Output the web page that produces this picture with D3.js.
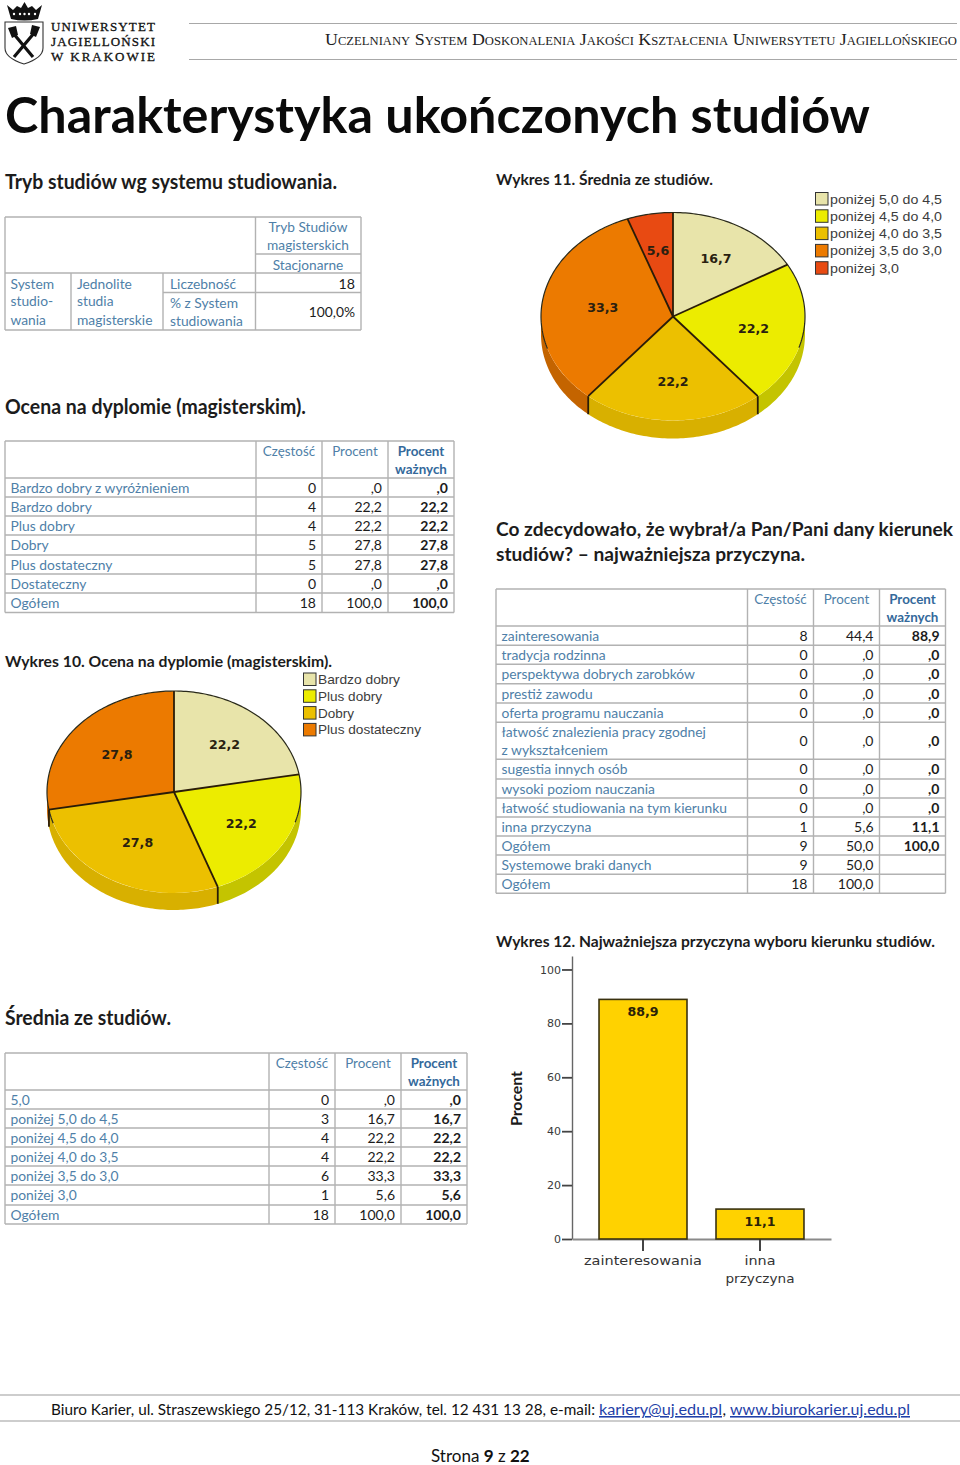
<!DOCTYPE html>
<html lang="pl"><head><meta charset="utf-8">
<script src="https://cdn.jsdelivr.net/npm/d3@7"></script>
<style>html,body{margin:0;padding:0;background:#fff}svg{display:block}</style>
</head><body><svg id="c" width="960" height="1465" viewBox="0 0 960 1465"></svg>
<script>
// ---- data ----
const logoLines = ["UNIWERSYTET","JAGIELLOŃSKI","W KRAKOWIE"];
const pageHeader = "Uczelniany System Doskonalenia Jakości Kształcenia Uniwersytetu Jagiellońskiego";
const pageTitle = "Charakterystyka ukończonych studiów";

const grade10Labels = ["Bardzo dobry","Plus dobry","Dobry","Plus dostateczny"];
const grade10Values = [22.2,22.2,27.8,27.8];
const avg11Labels = ["poniżej 5,0 do 4,5","poniżej 4,5 do 4,0","poniżej 4,0 do 3,5","poniżej 3,5 do 3,0","poniżej 3,0"];
const avg11Values = [16.7,22.2,22.2,33.3,5.6];
const reasonBarLabels = [["zainteresowania"],["inna","przyczyna"]];
const reasonBarValues = [88.9,11.1];
const barTicks = [0,20,40,60,80,100];

const freqHeader = ["Częstość","Procent",["Procent","ważnych"]];
const gradeRows = ["Bardzo dobry z wyróżnieniem","Bardzo dobry","Plus dobry","Dobry","Plus dostateczny","Dostateczny","Ogółem"];
const gradeFreq = ["0","4","4","5","5","0","18"];
const gradePct = [",0","22,2","22,2","27,8","27,8",",0","100,0"];
const gradeValid = [",0","22,2","22,2","27,8","27,8",",0","100,0"];

const avgRows = ["5,0","poniżej 5,0 do 4,5","poniżej 4,5 do 4,0","poniżej 4,0 do 3,5","poniżej 3,5 do 3,0","poniżej 3,0","Ogółem"];
const avgFreq = ["0","3","4","4","6","1","18"];
const avgPct = [",0","16,7","22,2","22,2","33,3","5,6","100,0"];
const avgValid = [",0","16,7","22,2","22,2","33,3","5,6","100,0"];

const reasonRows = ["zainteresowania","tradycja rodzinna","perspektywa dobrych zarobków","prestiż zawodu","oferta programu nauczania",["łatwość znalezienia pracy zgodnej","z wykształceniem"],"sugestia innych osób","wysoki poziom nauczania","łatwość studiowania na tym kierunku","inna przyczyna","Ogółem","Systemowe braki danych","Ogółem"];
const reasonFreq = ["8","0","0","0","0","0","0","0","0","1","9","9","18"];
const reasonPct = ["44,4",",0",",0",",0",",0",",0",",0",",0",",0","5,6","50,0","50,0","100,0"];
const reasonValid = ["88,9",",0",",0",",0",",0",",0",",0",",0",",0","11,1","100,0","",""];

// ---- style ----
const SANS = "Lato, Carlito, 'Open Sans', sans-serif";
const BLUE = "#4f7fa8", BLUEB = "#34699b", INK = "#1c1c1c", GRID = "#b2b2b2";
const PIE_TOP = ["#e8e4aa","#ecec00","#ecc000","#ec7a00","#e84a12"];
const PIE_SIDE = ["#bdb985","#c4c400","#d8b000","#c46400","#b83a0a"];
const svg = d3.select("#c");
const fmt = d3.formatLocale({decimal:",",thousands:" ",grouping:[3],currency:["",""]}).format(".1f");

function T(x,y,s,o={}){
  const t = svg.append("text").attr("x",x).attr("y",y).text(s)
    .attr("font-family",o.font||SANS).attr("font-size",o.size||14.2)
    .attr("font-weight",o.weight||400).attr("fill",o.fill||INK)
    .attr("text-anchor",o.anchor||"start");
  if(o.fit) t.attr("textLength",o.fit).attr("lengthAdjust",o.adjust||"spacingAndGlyphs");
  if(o.deco) t.attr("text-decoration",o.deco);
  if(o.variant) t.attr("font-variant",o.variant);
  if(o.rotate) t.attr("transform",`rotate(${o.rotate} ${x} ${y})`);
  return t;
}
function L(x1,y1,x2,y2,c=GRID,w=1.4){
  svg.append("line").attr("x1",x1).attr("y1",y1).attr("x2",x2).attr("y2",y2)
    .attr("stroke",c).attr("stroke-width",w);
}

// ---- page furniture ----
const logo = svg.append("g");
logo.append("path").attr("d","M7 5 L13 10 L17 6 L21 8 L24.5 2 L28 8 L32 6 L36 10 L42 5 L38 19 Q24.5 22 11 19 Z").attr("fill","#111");
logo.selectAll("circle").data([14,20,24.5,29,35]).join("circle").attr("cx",d=>d).attr("cy",14).attr("r",1.2).attr("fill","#fff");
logo.append("path").attr("d","M5 22 H43 V48 Q43 58 24 64 Q5 58 5 48 Z").attr("fill","#fff").attr("stroke","#333").attr("stroke-width",1.1);
logo.append("path").attr("d","M13 33 L33 57 M35 32 L14 57").attr("stroke","#111").attr("stroke-width",3.2).attr("fill","none");
logo.append("path").attr("d","M8 28 L16 26 L18 35 L12 38 Z M40 27 L32 25 L30 34 L36 37 Z").attr("fill","#111");
logoLines.forEach((s,i)=>T(51,[31,45.5,60.5][i],s,{font:"'Liberation Serif',serif",size:13,fill:"#111",fit:104,adjust:"spacing"}).attr("stroke","#111").attr("stroke-width",.3));

L(189,23.5,957,23.5,"#a8a8a8",1.2); L(189,59.5,957,59.5,"#a8a8a8",1.2);
T(325,45,pageHeader,{font:"'Liberation Serif',serif",size:17,fill:"#222",variant:"small-caps",fit:632});

T(5,133,pageTitle,{size:50,weight:700,fill:"#0a0a0a",fit:865});
T(5,189,"Tryb studiów wg systemu studiowania.",{size:20,weight:700,fit:332});
T(496,185,"Wykres 11. Średnia ze studiów.",{size:16,weight:700,fit:217});
T(5,413.5,"Ocena na dyplomie (magisterskim).",{size:20,weight:700,fit:301});
T(5,667,"Wykres 10. Ocena na dyplomie (magisterskim).",{size:16,weight:700,fit:327});
T(496,536,"Co zdecydowało, że wybrał/a Pan/Pani dany kierunek",{size:19,weight:700,fit:457});
T(496,561,"studiów? – najważniejsza przyczyna.",{size:19,weight:700,fit:309});
T(496,947,"Wykres 12. Najważniejsza przyczyna wyboru kierunku studiów.",{size:16,weight:700,fit:439});
T(5,1024.5,"Średnia ze studiów.",{size:20,weight:700,fit:166});

// ---- table 1 ----
[[5,217,361,217],[5,330,361,330],[5,217,5,330],[361,217,361,330],[255.5,217,255.5,330],
 [255.5,254,361,254],[5,273,361,273],[163,292.5,361,292.5],[71,273,71,330],[163,273,163,330]]
 .forEach(a=>L(...a));
[["Tryb Studiów",232],["magisterskich",250],["Stacjonarne",270]].forEach(a=>T(308,a[1],a[0],{fill:BLUE,anchor:"middle",size:13.7}));
[["System",288.5],["studio-",306],["wania",325]].forEach(a=>T(10.5,a[1],a[0],{fill:BLUE,size:13.8}));
[["Jednolite",288.5],["studia",306],["magisterskie",325]].forEach(a=>T(77,a[1],a[0],{fill:BLUE,size:13.8}));
[["Liczebność",288.5],["% z System",307.5],["studiowania",326]].forEach(a=>T(170,a[1],a[0],{fill:BLUE,size:13.8}));
T(355,288.5,"18",{anchor:"end"}); T(355,317,"100,0%",{anchor:"end",size:13.8});

// ---- frequency tables ----
function freqTable(xs,ys,rows,cols){
  const x0=xs[0], x1=xs[xs.length-1], y0=ys[0], y1=ys[ys.length-1];
  ys.forEach(y=>L(x0,y,x1,y)); xs.forEach(x=>L(x,y0,x,y1));
  freqHeader.forEach((h,i)=>{
    const cx=(xs[i+1]+xs[i+2])/2, lines=[].concat(h), last=i===2;
    lines.forEach((s,k)=>T(cx,y0+15+k*18,s,{anchor:"middle",fill:last?BLUEB:BLUE,weight:last?700:400,size:13.4}));
  });
  rows.forEach((r,i)=>{
    const top=ys[i+1], two=Array.isArray(r);
    [].concat(r).forEach((s,k)=>T(x0+5.5,top+15+k*18,s,{fill:BLUE,size:13.85}));
    cols.forEach((c,j)=>{ if(c[i]) T(xs[j+2]-6,top+(two?23.5:15),c[i],{anchor:"end",weight:j===2?700:400,size:14}); });
  });
}
freqTable([5,256,322,388,454],[441,478,497,516,535,555,574,593,612.5],gradeRows,[gradeFreq,gradePct,gradeValid]);
freqTable([5,269,335,401,467],[1053,1090,1109,1128,1147,1166,1185,1205,1224],avgRows,[avgFreq,avgPct,avgValid]);
freqTable([496,747.5,813.5,879.5,945.5],[589,626,645.3,664.3,683.7,703,722.3,759.3,779,798,817,836,855,874.3,893.3],reasonRows,[reasonFreq,reasonPct,reasonValid]);

// ---- pies ----
function pie3d(o){
  const angles = d3.pie().sort(null)(o.values);
  const g = svg.append("g").attr("transform",`translate(${o.cx},${o.cy})`);
  const px=a=>o.rx*Math.sin(a), py=a=>-o.ry*Math.cos(a);
  const line=d3.line();
  angles.forEach((d,i)=>{
    const a0=Math.max(d.startAngle,Math.PI/2), a1=Math.min(d.endAngle,Math.PI*1.5);
    if(a1<=a0) return;
    const s=d3.range(a0,a1,0.02).concat([a1]);
    const pts=s.map(a=>[px(a),py(a)]).concat(s.slice().reverse().map(a=>[px(a),py(a)+o.depth]));
    g.append("path").attr("d",line(pts)+"Z").attr("fill",PIE_SIDE[i]);
  });
  const arc=d3.arc().innerRadius(0).outerRadius(o.rx);
  const top=g.append("g").attr("transform",`scale(1,${o.ry/o.rx})`);
  top.selectAll("path").data(angles).join("path").attr("d",arc).attr("fill",(d,i)=>PIE_TOP[i]);
  const rim=d3.range(-Math.PI*0.60,Math.PI*0.60,0.02).map(a=>[px(a),py(a)]);
  g.append("path").attr("d",line(rim)).attr("fill","none").attr("stroke","#2a2a1a").attr("stroke-width",1.2);
  angles.forEach(d=>{
    const a=d.startAngle;
    g.append("line").attr("x1",0).attr("y1",0).attr("x2",px(a)).attr("y2",py(a)).attr("stroke","#2a1c08").attr("stroke-width",1.8);
    if(a>Math.PI/2 && a<Math.PI*1.5)
      g.append("line").attr("x1",px(a)).attr("y1",py(a)).attr("x2",px(a)).attr("y2",py(a)+o.depth).attr("stroke","#2a1c08").attr("stroke-width",1.8);
  });
  angles.forEach((d,i)=>{
    const m=(d.startAngle+d.endAngle)/2, f=o.labelR[i];
    g.append("text").attr("x",px(m)*f).attr("y",py(m)*f+5).attr("text-anchor","middle")
      .attr("font-family","'DejaVu Sans',sans-serif").attr("font-weight",700).attr("font-size",12.6)
      .attr("fill","#2a1f10").text(fmt(d.value));
  });
  o.labels.forEach((s,i)=>{
    const y=o.legY+i*o.legStep;
    svg.append("rect").attr("x",o.legX+.5).attr("y",y+.5).attr("width",12.5).attr("height",12.5)
      .attr("fill",PIE_TOP[i]).attr("stroke","#333").attr("stroke-width",1);
    T(o.legX+15,y+11.5,s,{font:"'Liberation Sans',Arial,sans-serif",size:13.4,fill:"#3c3c3c",fit:o.legW[i]});
  });
}
pie3d({values:avg11Values,labels:avg11Labels,cx:673,cy:316.5,rx:132,ry:104,depth:18,
  labelR:[.65,.62,.62,.54,.65],legX:815,legY:192,legStep:17.3,legW:[112,112,112,112,69]});
pie3d({values:grade10Values,labels:grade10Labels,cx:174,cy:792,rx:127,ry:101,depth:17,
  labelR:[.62,.61,.575,.585],legX:303,legY:672.5,legStep:16.8,legW:[82,64,36,103]});

// ---- bar chart ----
const xBar=d3.scaleBand().domain(reasonBarLabels.map(d=>d.join(" "))).range([572,831]).paddingInner(.248).paddingOuter(.231);
const yBar=d3.scaleLinear().domain([0,105]).range([1239,956]);
const axL=svg.append("g").attr("transform","translate(572,0)").call(d3.axisLeft(yBar).tickValues(barTicks).tickSize(10).tickSizeOuter(0).tickPadding(1));
axL.select(".domain").attr("stroke","#666").attr("stroke-width",1.4);
axL.selectAll(".tick line").attr("stroke","#444").attr("stroke-width",1.8);
axL.selectAll(".tick text").attr("font-family","'DejaVu Sans',sans-serif").attr("font-size",11).attr("fill","#3a3a3a");
const axB=svg.append("g").attr("transform","translate(0,1239)").call(d3.axisBottom(xBar).tickSize(12).tickSizeOuter(0));
axB.select(".domain").attr("stroke","#8a8a8a").attr("stroke-width",2);
axB.selectAll(".tick line").attr("stroke","#444").attr("stroke-width",2);
axB.selectAll(".tick text").remove();
const barW=xBar.bandwidth();
reasonBarValues.forEach((v,i)=>{
  const k=reasonBarLabels[i].join(" "), x=xBar(k);
  svg.append("rect").attr("x",x).attr("y",yBar(v)).attr("width",barW).attr("height",yBar(0)-yBar(v))
    .attr("fill","#ffd200").attr("stroke","#3a3210").attr("stroke-width",1.6);
  svg.append("text").attr("x",x+barW/2).attr("y",yBar(v)+17).attr("text-anchor","middle")
    .attr("font-family","'DejaVu Sans',sans-serif").attr("font-weight",700).attr("font-size",12.6)
    .attr("fill","#2a2208").text(fmt(v));
  reasonBarLabels[i].forEach((s,j)=>T(x+barW/2,1265+j*18,s,{font:"'DejaVu Sans',sans-serif",size:12.2,fill:"#333",anchor:"middle",fit:{zainteresowania:118,inna:31,przyczyna:69}[s]}));
});
T(522,1126,"Procent",{size:15.5,weight:700,fill:"#1a1a1a",rotate:-90,fit:55});

// ---- footer ----
L(0,1395,960,1395,"#bdbdbd",1.4); L(0,1421,960,1421,"#bdbdbd",1.4);
T(51,1415,"Biuro Karier, ul. Straszewskiego 25/12, 31-113 Kraków, tel. 12 431 13 28, e-mail:",{size:15.6,fill:"#111",fit:544});
T(599,1415,"kariery@uj.edu.pl",{size:15.6,fill:"#1f3fa8",deco:"underline",fit:123});
T(722.5,1415,",",{size:15.6,fill:"#111"});
T(730,1415,"www.biurokarier.uj.edu.pl",{size:15.6,fill:"#1f3fa8",deco:"underline",fit:180});
const pg=T(431,1462,"Strona ",{size:17,fill:"#111"});
pg.append("tspan").attr("font-weight",700).text("9");
pg.append("tspan").text(" z ");
pg.append("tspan").attr("font-weight",700).text("22");
</script></body></html>
